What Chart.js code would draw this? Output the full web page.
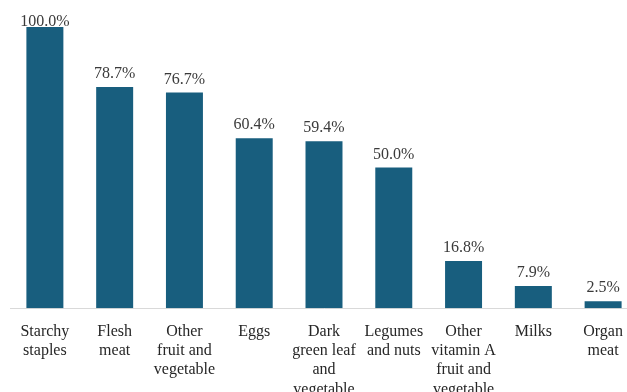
<!DOCTYPE html>
<html>
<head>
<meta charset="utf-8">
<script src="https://cdn.jsdelivr.net/npm/chart.js@4"></script>
<style>
  html, body { margin: 0; padding: 0; background: #fff; overflow: hidden; }
  #box { width: 640px; height: 392px; }
</style>
</head>
<body>
<div id="box"><canvas id="barras"></canvas></div>
<script>
const categorias = [
  ["Starchy", "staples"],
  ["Flesh", "meat"],
  ["Other", "fruit and", "vegetable"],
  ["Eggs"],
  ["Dark", "green leaf", "and", "vegetable"],
  ["Legumes", "and nuts"],
  ["Other", "vitamin A", "fruit and", "vegetable"],
  ["Milks"],
  ["Organ", "meat"]
];
const valores = [100.0, 78.7, 76.7, 60.4, 59.4, 50.0, 16.8, 7.9, 2.5];

const fonte = "'Liberation Serif', 'Times New Roman', serif";

// rotulos em cima das barras
const rotulos = {
  id: "rotulos",
  afterDatasetsDraw(chart) {
    const ctx = chart.ctx;
    const meta = chart.getDatasetMeta(0);
    const topo = chart.chartArea.top - 1;
    ctx.save();
    ctx.font = "16px " + fonte;
    ctx.fillStyle = "#3a3a3a";
    ctx.textAlign = "center";
    ctx.textBaseline = "alphabetic";
    meta.data.forEach((bar, i) => {
      // a barra de 100% fica com o rotulo encostado nela
      const y = Math.max(bar.y - 9, topo);
      ctx.fillText(valores[i].toFixed(1) + "%", bar.x, y);
    });
    ctx.restore();
  }
};

let bar = new Chart(document.getElementById("barras"), {
  type: "bar",
  data: {
    labels: categorias,
    datasets: [
      {
        data: valores,
        backgroundColor: "#185e7e",
        categoryPercentage: 1,
        barPercentage: 0.53,
      },
    ]
  },
  options: {
    responsive: true,
    maintainAspectRatio: false,
    animation: false,
    layout: {
      padding: { left: 10, right: 2, top: 27, bottom: -13 }
    },
    plugins: {
      legend: { display: false },
      tooltip: { enabled: false },
    },
    scales: {
      x: {
        grid: { display: false },
        border: { display: true, color: "#d9d9d9", width: 1 },
        ticks: {
          color: "#262626",
          font: { family: fonte, size: 16 },
          maxRotation: 0,
          autoSkip: false,
          padding: 6,
        },
      },
      y: {
        display: false,
        min: 0,
        max: 100,
      },
    },
  },
  plugins: [rotulos],
});
</script>
</body>
</html>
